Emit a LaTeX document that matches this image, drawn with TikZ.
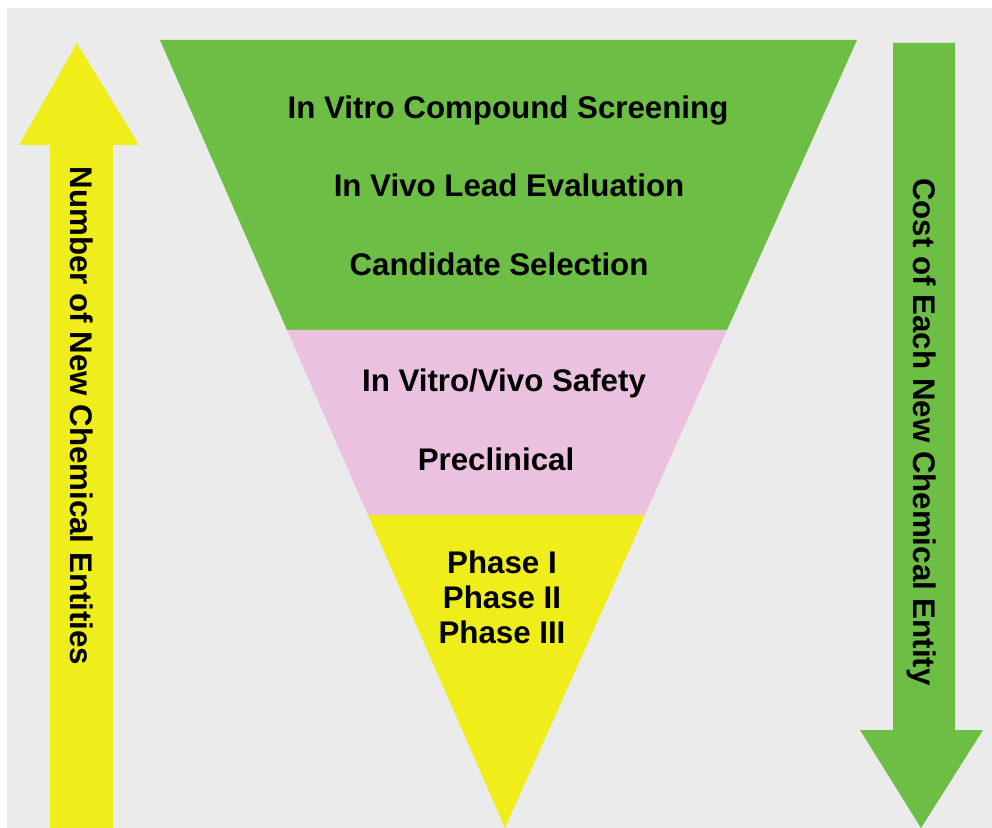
\documentclass[tikz,border=0pt]{standalone}
\usepackage{fontspec}
\setmainfont{Liberation Sans}

\definecolor{stagegreen}{HTML}{6DBE45}
\definecolor{stagepink}{HTML}{EAC2DF}
\definecolor{stageyellow}{HTML}{EFED1A}
\definecolor{paper}{HTML}{EBEBEB}

\tikzset{
    stage/.style={font=\fontsize{17.8}{21}\selectfont\bfseries, inner sep=0pt},
    axislabel/.style={stage, rotate=-90}
}

\begin{document}
\begin{tikzpicture}[x=0.02cm,y=-0.02cm]
        \useasboundingbox (0,0) rectangle (992,828);
        \fill[white] (0,0) rectangle (992,828);
        \fill[paper] (7,8) rectangle (992,828);

        % funnel
        \fill[stagegreen] (160,40) -- (857,40) -- (727,330) -- (287,330) -- cycle;
        \fill[stagepink] (287,330) -- (727,330) -- (645,515) -- (368,515) -- cycle;
        \fill[stageyellow] (368,515) -- (645,515) -- (505,828) -- cycle;

        % side arrows
        \fill[stageyellow] (50,828) -- (50,145) -- (19,145) -- (77,43)
            -- (139,145) -- (113,145) -- (113,828) -- cycle;
        \fill[stagegreen] (893,43) -- (955,43) -- (955,730) -- (983,730)
            -- (921,828) -- (860,730) -- (893,730) -- cycle;

        \node[stage] (screening) at (508,110) {In Vitro Compound Screening};
        \node[stage] (lead) at (509,185) {In Vivo Lead Evaluation};
        \node[stage] (candidate) at (499,264) {Candidate Selection};
        \node[stage] (safety) at (504,383) {In Vitro/Vivo Safety};
        \node[stage] (preclinical) at (496,459) {Preclinical};
        \node[stage,align=center] (phases) at (502,597) {Phase I\\[-1pt]Phase II\\[-1pt]Phase III};

        \node[axislabel] (number) at (82,416) {Number of New Chemical Entities};
        \node[axislabel] (cost) at (922,432) {Cost of Each New Chemical Entity};
    \end{tikzpicture}
\end{document}
